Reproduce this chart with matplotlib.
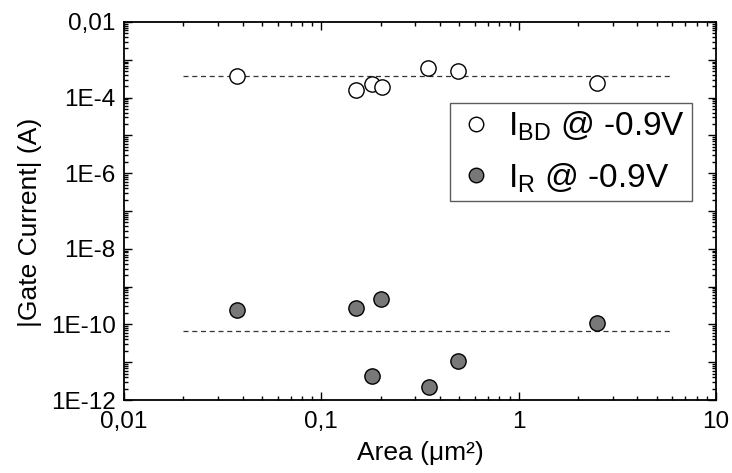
import numpy as np
import matplotlib
matplotlib.use("Agg")
import matplotlib.pyplot as plt
import matplotlib.ticker as ticker

plt.rcParams["font.family"] = ["Liberation Sans", "DejaVu Sans"]
plt.rcParams["mathtext.fontset"] = "custom"
plt.rcParams["mathtext.rm"] = "Liberation Sans"
plt.rcParams["mathtext.it"] = "Liberation Sans"

# breakdown current (open circles)
bd_area = [0.0372, 0.150, 0.181, 0.202, 0.346, 0.494, 2.49]
bd_current = [3.7e-4, 1.58e-4, 2.29e-4, 1.87e-4, 6.18e-4, 5.06e-4, 2.48e-4]
bd_mean = 3.7e-4

# leakage current (filled circles)
r_area = [0.0372, 0.150, 0.180, 0.200, 0.350, 0.494, 2.49]
r_current = [2.4e-10, 2.66e-10, 4.4e-12, 4.6e-10, 2.25e-12, 1.08e-11, 1.1e-10]
r_mean = 6.6e-11

line_x = [0.02, 6.0]

x_ticks = [0.01, 0.1, 1, 10]
x_ticklabels = ["0,01", "0,1", "1", "10"]
y_ticks = [1e-12, 1e-11, 1e-10, 1e-9, 1e-8, 1e-7, 1e-6, 1e-5, 1e-4, 1e-3, 1e-2]
y_ticklabels = ["1E-12", "", "1E-10", "", "1E-8", "", "1E-6", "", "1E-4", "", "0,01"]

fig = plt.figure(figsize=(7.32, 4.73), dpi=100)
ax = fig.add_axes([0.1694, 0.1543, 0.8086, 0.7992])

ax.plot(line_x, [bd_mean, bd_mean], ls=(0, (4, 3)), color="#333333", lw=0.9)
ax.plot(line_x, [r_mean, r_mean], ls=(0, (4, 3)), color="#333333", lw=0.9)

ax.plot(bd_area, bd_current, "o", ms=11, mfc="white", mec="black", mew=1.0,
        ls="none", label=r"I$_{\rm BD}$ @ -0.9V")
ax.plot(r_area, r_current, "o", ms=11, mfc="#787878", mec="black", mew=1.0,
        ls="none", label=r"I$_{\rm R}$ @ -0.9V")

ax.set_xscale("log")
ax.set_yscale("log")
ax.set_xlim(0.01, 10)
ax.set_ylim(1e-12, 1e-2)

ax.set_xticks(x_ticks)
ax.set_xticklabels(x_ticklabels)
ax.xaxis.set_minor_locator(ticker.LogLocator(base=10, subs=np.arange(2, 10)))
ax.xaxis.set_minor_formatter(ticker.NullFormatter())

ax.set_yticks(y_ticks)
ax.set_yticklabels(y_ticklabels)
ax.yaxis.set_minor_locator(ticker.LogLocator(base=10, subs=np.arange(2, 10), numticks=20))
ax.yaxis.set_minor_formatter(ticker.NullFormatter())

ax.tick_params(which="both", direction="in", top=True, right=True, width=1.0,
               labelsize=17.5)
ax.tick_params(which="major", length=6)
ax.tick_params(which="minor", length=3)
ax.tick_params(axis="x", which="major", pad=8)
ax.tick_params(axis="y", which="major", pad=6)
for s in ax.spines.values():
    s.set_linewidth(1.3)

ax.set_xlabel("Area (\u03bcm\u00b2)", fontsize=19, labelpad=6)
ax.set_ylabel("|Gate Current| (A)", fontsize=19)
ax.yaxis.set_label_coords(-0.1385, 0.471)

leg = ax.legend(loc="upper right", bbox_to_anchor=(0.959, 0.7865), fontsize=24,
                frameon=True, fancybox=False, edgecolor="#333333",
                handletextpad=0.35, borderpad=0.2, labelspacing=0.55,
                handlelength=1.2, borderaxespad=0, markerscale=0.95)
leg.get_frame().set_linewidth(1.0)

fig.savefig("out.png", dpi=100)
